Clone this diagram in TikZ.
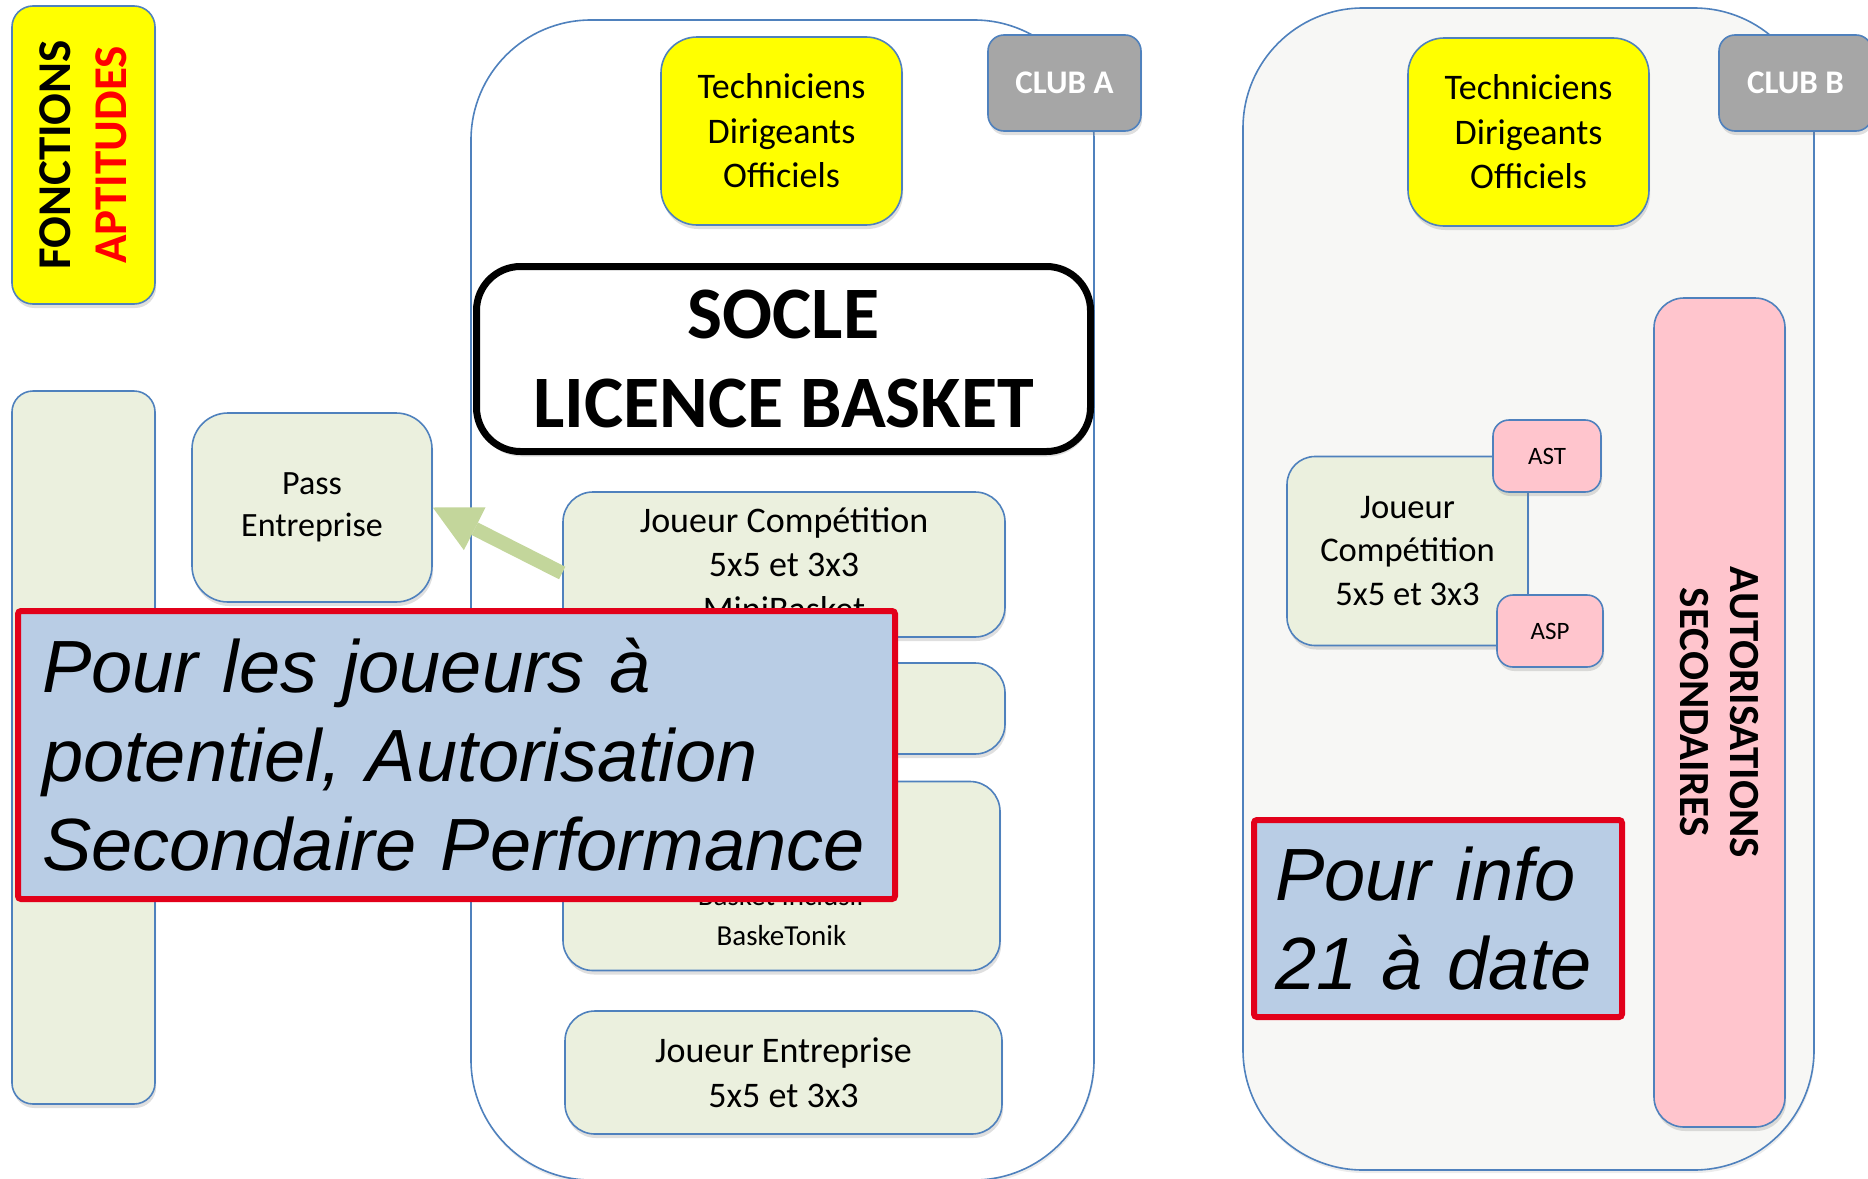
\documentclass[tikz,border=0pt]{standalone}
\usepackage{fontspec}
\setmainfont{Carlito}
\newfontfamily\arialf{Liberation Sans}
\usetikzlibrary{positioning, arrows.meta, shadows}

\definecolor{bordb}{HTML}{4F81BD}
\definecolor{vert}{HTML}{EBF0DE}
\definecolor{jaune}{HTML}{FFFF00}
\definecolor{gris}{HTML}{A6A6A6}
\definecolor{rose}{HTML}{FFC5CD}
\definecolor{bleu}{HTML}{B9CDE5}
\definecolor{rouge}{HTML}{E2001A}
\definecolor{fleche}{HTML}{C3D69B}
\definecolor{fondb}{HTML}{F7F7F5}

\newcommand\fzmid{\fontsize{18}{22.3}\selectfont}
\newcommand\fzpass{\fontsize{17}{21}\selectfont}
\newcommand\fzsmall{\fontsize{14.5}{20}\selectfont}
\newcommand\fzjb{\fontsize{17.3}{21.7}\selectfont}
\newcommand\fzsig{\fontsize{12.5}{15}\selectfont}
\newcommand\fzclub{\fontsize{16.5}{20}\selectfont\bfseries}
\newcommand\fzsocle{\fontsize{37}{44.5}\selectfont\bfseries}
\newcommand\fzfonc{\fontsize{23.5}{28}\selectfont\bfseries}
\newcommand\fzauto{\fontsize{21.5}{25}\selectfont\bfseries}
\newcommand\fzpour{\arialf\itshape\fontsize{37}{44.5}\selectfont}

\begin{document}
\begin{tikzpicture}[x=0.5pt, y=-0.5pt,
    box/.style={draw=bordb, line width=0.8pt, rounded corners=#1, inner sep=0pt,
        drop shadow={shadow xshift=0.6pt, shadow yshift=-2pt, opacity=0.25}},
    box/.default=18pt,
    club/.style={draw=bordb, line width=0.8pt, rounded corners=60pt, inner sep=0pt,
        drop shadow={shadow xshift=0.4pt, shadow yshift=-1.5pt, opacity=0.15}},
    note/.style={draw=rouge, line width=3pt, fill=bleu, rounded corners=1.5pt,
        align=left, font=\fzpour}]

    \useasboundingbox (0, 0) rectangle (1868, 1178);
    \clip (0, 0) rectangle (1868, 1178);

    % left column
    \node[box=10.5pt, fill=jaune, minimum width=71.5pt, minimum height=149pt] (fa) at (83.5, 155) {}; % fonctions
    \node[rotate=90, align=center, font=\fzfonc] (fat) at (fa) {FONCTIONS\\\textcolor{red}{APTITUDES}};
    \node[box=10.5pt, fill=vert, minimum width=71.5pt, minimum height=356.5pt] (gc) at (83.5, 747.5) {}; % colonne
    \node[box, fill=vert, minimum width=120pt, minimum height=94.5pt, align=center, font=\fzpass] (pe) at (312, 507.5) {Pass\\Entreprise}; % pass

    % club A
    \node[club, fill=white, minimum width=311.5pt, minimum height=580pt] (ka) at (782.5, 600) {}; % club a
    \node[box, fill=jaune, minimum width=120.5pt, minimum height=94pt, align=center, font=\fzmid] (ta) at (781.5, 131) {Techniciens\\Dirigeants\\Officiels}; % tdo
    \node[box=8pt, fill=gris, text=white, font=\fzclub, minimum width=76.5pt, minimum height=48pt] (ca) at (1064.5, 83) {CLUB A}; % a
    \node[draw=black, line width=3.5pt, rounded corners=22pt, fill=white, inner sep=0pt,
        minimum width=307pt, minimum height=92.5pt, align=center, font=\fzsocle,
        drop shadow={shadow xshift=0.6pt, shadow yshift=-2.5pt, opacity=0.25}] (soc) at (783.5, 359) {SOCLE\\LICENCE BASKET}; % socle
    \node[box=15pt, fill=vert, minimum width=221pt, minimum height=72.5pt, align=center, font=\fzmid] (jc) at (784, 564.5) {Joueur Compétition\\5x5 et 3x3\\MiniBasket}; % competition
    \node[box=15pt, fill=vert, minimum width=221pt, minimum height=45.5pt] (j2) at (784, 708.5) {}; % cache
    \node[box=15pt, fill=vert, minimum width=218.5pt, minimum height=94.5pt] (j3) at (781.5, 876) {}; % loisir
    \node[align=center, font=\fzsmall] (bk) at (781.5, 916) {Basket Inclusif\\BaskeTonik};
    \node[box=15pt, fill=vert, minimum width=218.5pt, minimum height=61.5pt, align=center, font=\fzmid] (je) at (783.5, 1072.5) {Joueur Entreprise\\5x5 et 3x3}; % entreprise

    \draw[fleche, line width=7pt, -{Triangle[width=24pt, length=23.5pt, line width=0pt]}]
        ([yshift=-4.25pt]jc.west) -- (pe.east);

    \node[note, minimum width=438.5pt, minimum height=144pt, inner xsep=12pt, text width=414.5pt] (pj) at (456.5, 755) {Pour les joueurs à\\potentiel, Autorisation\\Secondaire Performance}; % callout

    % club B
    \node[club, fill=fondb, minimum width=285.5pt, minimum height=581pt] (kb) at (1528.5, 589) {}; % club b
    \node[box, fill=jaune, minimum width=120.5pt, minimum height=94pt, align=center, font=\fzmid] (tb) at (1528.5, 132) {Techniciens\\Dirigeants\\Officiels}; % tdo
    \node[box=8pt, fill=gris, text=white, font=\fzclub, minimum width=76.5pt, minimum height=48pt] (cb) at (1795.5, 83) {CLUB B}; % b
    \node[box=15pt, fill=rose, minimum width=65.5pt, minimum height=414.5pt] (as) at (1719.5, 712.5) {}; % autorisations
    \node[rotate=-90, align=center, font=\fzauto] (ast2) at (as) {AUTORISATIONS\\SECONDAIRES};
    \node[box=14pt, fill=vert, minimum width=120.5pt, minimum height=94.5pt, align=center, font=\fzjb] (jb) at (1407.5, 551) {Joueur\\Compétition\\5x5 et 3x3}; % competition
    \node[box=8pt, fill=rose, minimum width=54pt, minimum height=36pt, font=\fzsig] (ast) at (1547, 456) {AST}; % ast
    \node[box=8pt, fill=rose, minimum width=53pt, minimum height=36pt, font=\fzsig] (asp) at (1550, 631) {ASP}; % asp
    \node[note, minimum width=184pt, minimum height=98.5pt, inner xsep=10.5pt, text width=163pt] (pi) at (1438, 918.5) {Pour info\\21 à date}; % info
\end{tikzpicture}
\end{document}
